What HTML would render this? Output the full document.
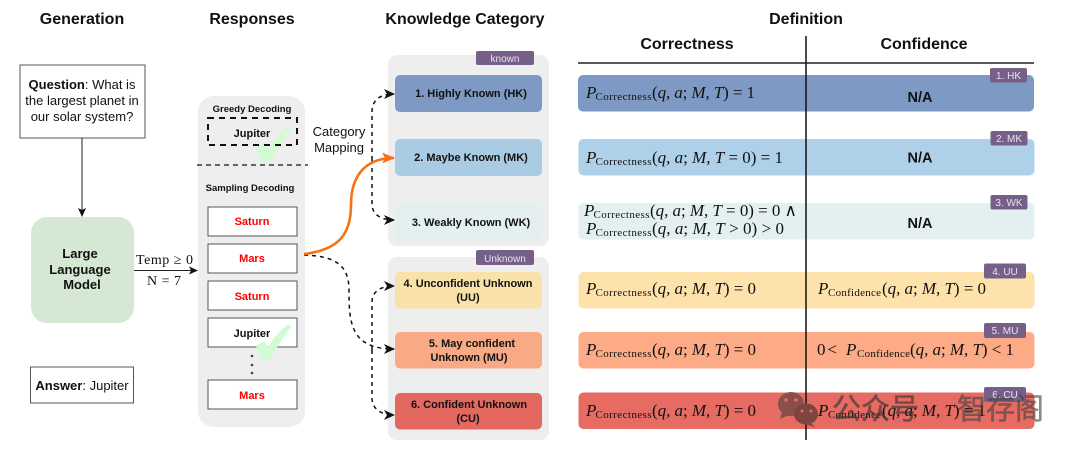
<!DOCTYPE html>
<html><head><meta charset="utf-8">
<style>
html,body{margin:0;padding:0;background:#fff;width:1080px;height:453px;overflow:hidden}
svg{display:block}
text{font-family:"Liberation Sans",sans-serif;fill:#111}
.h{font-weight:bold;font-size:16px;text-anchor:middle}
.b{font-weight:bold;font-size:9.5px;text-anchor:middle}
.red{font-weight:bold;font-size:11px;text-anchor:middle;fill:#f00}
.cat{font-weight:bold;font-size:11px;text-anchor:middle}
.q{font-size:13px;text-anchor:middle}
.tag{font-size:10px;text-anchor:middle;fill:#e8e4ee}
.na{font-weight:bold;font-size:14.500px;text-anchor:middle}
.m{font-family:"Liberation Serif",serif;font-size:17px}
.s{font-family:"Liberation Serif",serif;font-size:11px}
.i{font-style:italic}
.dash{fill:none;stroke:#111;stroke-width:1.5;stroke-dasharray:4 4}
</style></head><body>
<svg width="1080" height="453" viewBox="0 0 1080 453" xmlns="http://www.w3.org/2000/svg">
<defs>
<marker id="ak" markerWidth="9" markerHeight="8" refX="8" refY="4" orient="auto" markerUnits="userSpaceOnUse"><path d="M0 0L9 4L0 8L2 4Z" fill="#111"/></marker>
<marker id="ad" markerWidth="11" markerHeight="10" refX="10" refY="5" orient="auto" markerUnits="userSpaceOnUse"><path d="M0 0L11 5L0 10L3 5Z" fill="#111"/></marker>
<marker id="ao" markerWidth="13" markerHeight="11" refX="12" refY="5.500" orient="auto" markerUnits="userSpaceOnUse"><path d="M0 0L13 5.500L0 11L3 5.500Z" fill="#f57214"/></marker>
</defs>

<!-- headings -->
<text class="h" x="82" y="24">Generation</text>
<text class="h" x="252" y="24">Responses</text>
<text class="h" x="465" y="24">Knowledge Category</text>
<text class="h" x="806" y="24">Definition</text>
<text class="h" x="687" y="49">Correctness</text>
<text class="h" x="924" y="49">Confidence</text>

<!-- generation -->
<rect x="20" y="65" width="125" height="73" fill="#fff" stroke="#555" stroke-width="1"/>
<text class="q" x="82" y="89"><tspan font-weight="bold">Question</tspan>: What is</text>
<text class="q" x="82" y="105">the largest planet in</text>
<text class="q" x="82" y="121">our solar system?</text>
<line x1="82" y1="138" x2="82" y2="216" stroke="#222" stroke-width="1" marker-end="url(#ak)"/>
<rect x="31" y="217" width="103" height="106" rx="16" fill="#d5e8d4"/>
<text class="q" x="80" y="258" style="font-weight:bold">Large</text>
<text class="q" x="80" y="274" style="font-weight:bold">Language</text>
<text class="q" x="82" y="289" style="font-weight:bold">Model</text>
<rect x="30.500" y="367" width="103" height="36" fill="#fff" stroke="#555" stroke-width="1"/>
<text class="q" x="82" y="390"><tspan font-weight="bold">Answer</tspan>: Jupiter</text>
<line x1="134" y1="270.500" x2="197" y2="270.500" stroke="#222" stroke-width="1" marker-end="url(#ak)"/>
<text class="m" style="font-size:14px" x="136" y="264" textLength="57">Temp ≥ 0</text>
<text class="m" style="font-size:14px" x="147" y="285" textLength="34">N = 7</text>

<!-- responses panel -->
<rect x="198" y="96" width="107" height="331" rx="16" fill="#eeeeee"/>
<text class="b" x="252" y="112">Greedy Decoding</text>
<path d="M256 149L264 143L269 149Q276 136 288 126L292 128Q279 143 271 162L262 162Z" fill="#d3fbd3"/>
<rect x="208" y="118" width="89" height="27" fill="none" stroke="#111" stroke-width="2" stroke-dasharray="6 5"/>
<text class="cat" x="252" y="137">Jupiter</text>
<line x1="197" y1="165" x2="308" y2="165" stroke="#111" stroke-width="1.300" stroke-dasharray="5 4"/>
<text class="b" x="250" y="191">Sampling Decoding</text>
<g fill="#fff" stroke="#555" stroke-width="1">
<rect x="208" y="207" width="89" height="29"/>
<rect x="208" y="244" width="89" height="29"/>
<rect x="208" y="281" width="89" height="29"/>
<rect x="208" y="318" width="89" height="29"/>
<rect x="208" y="380" width="89" height="29"/>
</g>
<text class="red" x="252" y="225">Saturn</text>
<text class="red" x="252" y="262">Mars</text>
<text class="red" x="252" y="300">Saturn</text>
<path d="M256 346L264 341L268 347Q276 333 288 324L292 326Q279 341 271 360L262 360Z" fill="#d3fbd3"/>
<text class="cat" x="252" y="337">Jupiter</text>
<text class="red" x="252" y="399">Mars</text>
<g fill="#444"><circle cx="252" cy="356" r="1.300"/><circle cx="252" cy="365" r="1.300"/><circle cx="252" cy="373" r="1.300"/></g>

<text class="q" x="339" y="136">Category</text>
<text class="q" x="339" y="152">Mapping</text>

<!-- category panels -->
<rect x="388" y="55" width="161" height="191" rx="9" fill="#eeeeee"/>
<rect x="388" y="257" width="161" height="183" rx="9" fill="#eeeeee"/>
<rect x="476" y="51" width="58" height="14" rx="2" fill="#76608a"/>
<text class="tag" x="505" y="62">known</text>
<rect x="476" y="250" width="58" height="15" rx="2" fill="#76608a"/>
<text class="tag" x="505" y="262">Unknown</text>
<rect x="395" y="75" width="147" height="37" rx="5" fill="#7e9ac4"/>
<rect x="395" y="139" width="147" height="37" rx="5" fill="#a9cbe3"/>
<rect x="395" y="203" width="147" height="37" rx="5" fill="#e4f0f0"/>
<rect x="395" y="272" width="147" height="36.500" rx="5" fill="#f9e2aa"/>
<rect x="395" y="332" width="147" height="36.500" rx="5" fill="#f7aa85"/>
<rect x="395" y="393" width="147" height="36.500" rx="5" fill="#e3685f"/>
<text class="cat" x="471" y="97">1. Highly Known (HK)</text>
<text class="cat" x="471" y="161">2. Maybe Known (MK)</text>
<text class="cat" x="471" y="226">3. Weakly Known (WK)</text>
<text class="cat" x="468" y="287">4. Unconfident Unknown</text>
<text class="cat" x="468" y="301">(UU)</text>
<text class="cat" x="472" y="347">5. May confident</text>
<text class="cat" x="469" y="361">Unknown (MU)</text>
<text class="cat" x="469" y="408">6. Confident Unknown</text>
<text class="cat" x="468" y="422">(CU)</text>

<!-- connectors -->
<path class="dash" d="M372 160V112C372 100 380 94 394 94" marker-end="url(#ad)"/>
<path class="dash" d="M372 160V204C372 214 380 220 394 220" marker-end="url(#ad)"/>
<path class="dash" d="M372 350V302C372 292 380 286 394 286" marker-end="url(#ad)"/>
<path class="dash" d="M372 350V398C372 408 380 415 394 415" marker-end="url(#ad)"/>
<path class="dash" d="M304 255C335 256 349 265 349 290C349 322 350 349 394 349" marker-end="url(#ad)"/>
<path d="M304 254C338 250 351 235 351 205C351 176 365 158 394 158" fill="none" stroke="#f57214" stroke-width="2.600" marker-end="url(#ao)"/>

<!-- definition bars -->
<rect x="578" y="75" width="456" height="36.500" rx="5" fill="#7e9ac4"/>
<rect x="578.500" y="139" width="456" height="36.500" rx="5" fill="#aed0e8"/>
<rect x="578.500" y="203" width="456" height="36.500" rx="5" fill="#e4f0f0"/>
<rect x="578.500" y="272" width="456" height="36.500" rx="5" fill="#fde3ab"/>
<rect x="578.500" y="332" width="456" height="36.500" rx="5" fill="#fdab86"/>
<rect x="578.500" y="392.500" width="456" height="36.500" rx="5" fill="#e56b63"/>

<!-- math -->
<g>
<text class="m i" x="586" y="98">P</text><text class="s" x="595.500" y="100" textLength="56">Correctness</text><text class="m" x="652" y="98" textLength="103"><tspan>(</tspan><tspan font-style="italic">q, a</tspan><tspan>; </tspan><tspan font-style="italic">M, T</tspan><tspan>) = 1</tspan></text>

<text class="m i" x="586" y="163">P</text><text class="s" x="595.500" y="165" textLength="56">Correctness</text><text class="m" x="652" y="163" textLength="131"><tspan>(</tspan><tspan font-style="italic">q, a</tspan><tspan>; </tspan><tspan font-style="italic">M, T</tspan><tspan> = 0) = 1</tspan></text>

<text class="m i" x="584" y="216">P</text><text class="s" x="593.500" y="218" textLength="56">Correctness</text><text class="m" x="650" y="216" textLength="147"><tspan>(</tspan><tspan font-style="italic">q, a</tspan><tspan>; </tspan><tspan font-style="italic">M, T</tspan><tspan> = 0) = 0 ∧</tspan></text>
<text class="m i" x="586" y="234">P</text><text class="s" x="595.500" y="236" textLength="56">Correctness</text><text class="m" x="652" y="234" textLength="132"><tspan>(</tspan><tspan font-style="italic">q, a</tspan><tspan>; </tspan><tspan font-style="italic">M, T</tspan><tspan> &gt; 0) &gt; 0</tspan></text>

<text class="m i" x="586" y="294">P</text><text class="s" x="595.500" y="296" textLength="56">Correctness</text><text class="m" x="652" y="294" textLength="104"><tspan>(</tspan><tspan font-style="italic">q, a</tspan><tspan>; </tspan><tspan font-style="italic">M, T</tspan><tspan>) = 0</tspan></text>
<text class="m i" x="586" y="355">P</text><text class="s" x="595.500" y="357" textLength="56">Correctness</text><text class="m" x="652" y="355" textLength="104"><tspan>(</tspan><tspan font-style="italic">q, a</tspan><tspan>; </tspan><tspan font-style="italic">M, T</tspan><tspan>) = 0</tspan></text>
<text class="m i" x="586" y="416">P</text><text class="s" x="595.500" y="418" textLength="56">Correctness</text><text class="m" x="652" y="416" textLength="104"><tspan>(</tspan><tspan font-style="italic">q, a</tspan><tspan>; </tspan><tspan font-style="italic">M, T</tspan><tspan>) = 0</tspan></text>

<text class="m i" x="818" y="294">P</text><text class="s" x="828" y="296" textLength="53">Confidence</text><text class="m" x="882" y="294" textLength="104"><tspan>(</tspan><tspan font-style="italic">q, a</tspan><tspan>; </tspan><tspan font-style="italic">M, T</tspan><tspan>) = 0</tspan></text>
<text class="m" x="817" y="355" textLength="20">0 &lt;</text><text class="m i" x="846" y="355">P</text><text class="s" x="857" y="357" textLength="53">Confidence</text><text class="m" x="910" y="355" textLength="104"><tspan>(</tspan><tspan font-style="italic">q, a</tspan><tspan>; </tspan><tspan font-style="italic">M, T</tspan><tspan>) &lt; 1</tspan></text>
<text class="m i" x="818" y="416">P</text><text class="s" x="828" y="418" textLength="53">Confidence</text><text class="m" x="882" y="416" textLength="104"><tspan>(</tspan><tspan font-style="italic">q, a</tspan><tspan>; </tspan><tspan font-style="italic">M, T</tspan><tspan>) = 1</tspan></text>
</g>
<text class="na" x="920" y="102">N/A</text>
<text class="na" x="920" y="162.500">N/A</text>
<text class="na" x="920" y="228">N/A</text>

<!-- rule lines -->
<line x1="578" y1="63" x2="1034" y2="63" stroke="#222" stroke-width="1.500"/>
<line x1="806" y1="36" x2="806" y2="440" stroke="#111" stroke-width="1.500"/>

<!-- tags -->
<g fill="#76608a">
<rect x="990" y="68" width="37" height="14.500" rx="2"/>
<rect x="990.500" y="131" width="37" height="14.500" rx="2"/>
<rect x="990.500" y="195" width="37" height="14.500" rx="2"/>
<rect x="984" y="263.500" width="42" height="15" rx="2"/>
<rect x="984" y="323" width="42" height="15" rx="2"/>
<rect x="984" y="387" width="42" height="15" rx="2"/>
</g>
<text class="tag" x="1008.500" y="79">1. HK</text>
<text class="tag" x="1009" y="142">2. MK</text>
<text class="tag" x="1009" y="206">3. WK</text>
<text class="tag" x="1005" y="275">4. UU</text>
<text class="tag" x="1005" y="334">5. MU</text>
<text class="tag" x="1005" y="398">6. CU</text>

<!-- watermark -->
<g>
<ellipse cx="791" cy="404" rx="13" ry="12" fill="#8a4f4a"/>
<path d="M782 412L780 419L789 415Z" fill="#8a4f4a"/>
<ellipse cx="806" cy="414" rx="12" ry="10.500" fill="#7d4440"/>
<path d="M811 423L815 427L805 424Z" fill="#7d4440"/>
<g fill="#e56b63"><circle cx="786" cy="400" r="1.800"/><circle cx="796" cy="400" r="1.800"/><circle cx="802" cy="411" r="1.500"/><circle cx="811" cy="411" r="1.500"/></g>
<g opacity=".62">
<text x="832" y="419" style="font-family:'Liberation Sans','Noto Sans CJK SC',sans-serif;font-size:29px;fill:#333;stroke:#333;stroke-width:.5">公众号</text>
<text x="957" y="419" style="font-family:'Liberation Sans','Noto Sans CJK SC',sans-serif;font-size:29px;fill:#444;stroke:#444;stroke-width:.5">智存阁</text>
</g>
</g>
</svg>
</body></html>
